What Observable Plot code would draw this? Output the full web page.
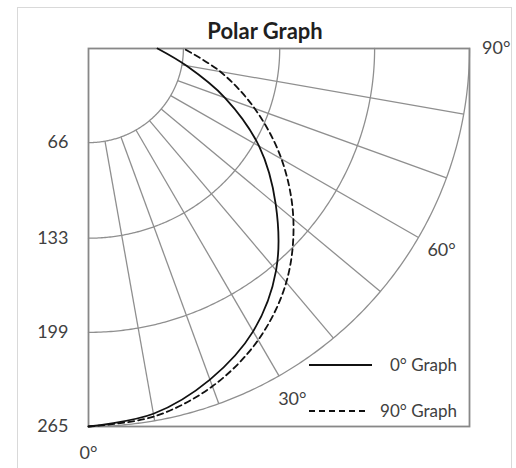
<!DOCTYPE html>
<html>
<head>
<meta charset="utf-8">
<script src="https://cdn.jsdelivr.net/npm/d3@7"></script>
<script src="https://cdn.jsdelivr.net/npm/@observablehq/plot@0.6"></script>
<style>
  html, body { margin: 0; padding: 0; background: #fff; }
  #wrap { position: relative; width: 516px; height: 468px; overflow: hidden; background: #fff; font-family: Lato, "Open Sans", sans-serif; }
  #border { position: absolute; left: 17px; top: 7px; width: 495px; height: 480px; border: 1.5px solid #d9d9d9; box-sizing: border-box; }
  #plot { position: absolute; left: 0; top: 0; }
  #title { position: absolute; left: 17px; width: 496px; top: 20px; text-align: center; font-weight: 700; font-size: 22px; line-height: 22px; color: #1f1f1f; }
  .leg { position: absolute; left: 309px; width: 148px; height: 20px; }
  .leg svg { position: absolute; left: 0; top: 0; }
  .leg span { position: absolute; right: 0; top: 0; line-height: 20px; font-size: 17px; color: #404040; white-space: nowrap; }
</style>
</head>
<body>
<div id="wrap">
  <div id="border"></div>
  <div id="plot"></div>
  <div id="title"></div>
</div>
<script>
// ---- data ----
const angles = [0, 10, 20, 30, 40, 50, 60, 70, 80, 90];           // degrees
const graph0 = [265, 260, 247, 229, 203, 170, 137, 101, 69, 48];  // "0° Graph"
const graph90 = [265, 262, 252, 236, 214, 186, 155, 123, 93, 66]; // "90° Graph"
const seriesNames = ["0° Graph", "90° Graph"];
const radialTicks = [66, 133, 199, 265];
const angleTicks = [0, 30, 60, 90];
const spokeAngles = [10, 20, 30, 40, 50, 60, 70, 80];
const titleText = "Polar Graph";

// ---- helpers ----
const rad = d => d * Math.PI / 180;
const px = (r, a) => r * Math.sin(rad(a));
const py = (r, a) => r * Math.cos(rad(a));
const rMax = radialTicks[radialTicks.length - 1];
const rMin = radialTicks[0];

const series = [];
angles.forEach((a, i) => series.push({name: seriesNames[0], a, r: graph0[i]}));
angles.forEach((a, i) => series.push({name: seriesNames[1], a, r: graph90[i]}));

const arcPts = [];
for (const r of radialTicks) for (let a = 0; a <= 90; a += 0.5) arcPts.push({r, a});

const gridColor = "#8f8f8f";

const chart = Plot.plot({
  width: 516,
  height: 468,
  marginLeft: 88,
  marginRight: 47,
  marginTop: 48,
  marginBottom: 42,
  style: {fontFamily: "Lato, 'Open Sans', sans-serif", background: "transparent", overflow: "visible"},
  x: {domain: [0, rMax], axis: null},
  y: {domain: [0, rMax], reverse: true, axis: null},
  marks: [
    Plot.line(arcPts, {x: d => px(d.r, d.a), y: d => py(d.r, d.a), z: "r", stroke: gridColor, strokeWidth: 1.3}),
    Plot.link(spokeAngles, {
      x1: a => px(rMin, a), y1: a => py(rMin, a),
      x2: a => px(rMax, a), y2: a => py(rMax, a),
      stroke: gridColor, strokeWidth: 1.3
    }),
    Plot.frame({stroke: "#888", strokeWidth: 1.8}),
    Plot.line(series.filter(d => d.name === seriesNames[1]), {
      x: d => px(d.r, d.a), y: d => py(d.r, d.a),
      stroke: "#111", strokeWidth: 1.8, strokeDasharray: "6,4", curve: "catmull-rom"
    }),
    Plot.line(series.filter(d => d.name === seriesNames[0]), {
      x: d => px(d.r, d.a), y: d => py(d.r, d.a),
      stroke: "#111", strokeWidth: 1.8, curve: "catmull-rom"
    }),
    Plot.axisY({ticks: radialTicks, tickSize: 0, tickPadding: 20, fontSize: 18, label: null, color: "#404040"}),
    Plot.text(angleTicks, {
      x: a => px(rMax * 1.07, a), y: a => py(rMax * 1.07, a),
      text: a => a + "°", fontSize: 18, fill: "#404040"
    })
  ]
});
document.getElementById("plot").appendChild(chart);
document.getElementById("title").textContent = titleText;

// ---- legend ----
const legendStyles = [
  {top: 355, len: 63, dash: null},
  {top: 401, len: 58, dash: "6,4"}
];
const wrap = document.getElementById("wrap");
seriesNames.forEach((name, i) => {
  const s = legendStyles[i];
  const div = document.createElement("div");
  div.className = "leg";
  div.style.top = s.top + "px";
  div.innerHTML = `<svg width="${s.len}" height="20"><line x1="0" x2="${s.len}" y1="10" y2="10" stroke="#111" stroke-width="1.8" ${s.dash ? `stroke-dasharray="${s.dash}"` : ""}/></svg><span></span>`;
  div.querySelector("span").textContent = name;
  wrap.appendChild(div);
});
</script>
</body>
</html>
